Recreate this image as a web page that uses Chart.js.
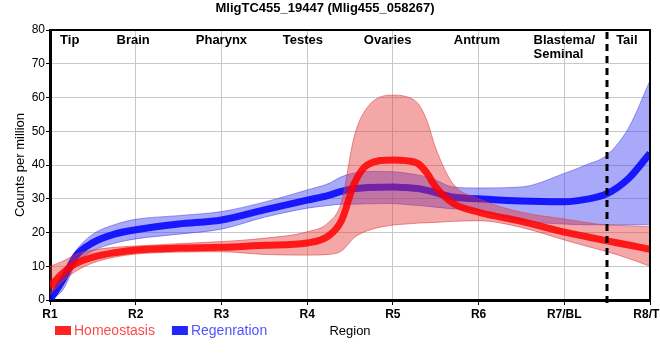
<!DOCTYPE html>
<html lang="en">
<head>
<meta charset="UTF-8">
<title>MligTC455_19447 (Mlig455_058267)</title>
<style>
  html, body { margin: 0; padding: 0; background: #fff; overflow: hidden; }
  #wrap { width: 660px; height: 360px; }
</style>
</head>
<body>
<div id="wrap"><canvas id="chart" width="660" height="360"></canvas></div>

<script src="https://cdn.jsdelivr.net/npm/chart.js"></script>
<script>
// position along the body: 1 = R1 ... 8 = R8/TL
const positions  = [1, 1.15, 1.3, 1.5, 1.75, 2, 2.5, 3, 3.5, 4, 4.25, 4.4, 4.55, 4.7, 5, 5.15, 5.3, 5.4, 5.5, 5.7, 6, 6.5, 7, 7.25, 7.5, 7.75, 8];

// Homeostasis (red): mean and band
const homeoMean  = [4, 8, 10.8, 12.7, 14, 14.8, 15.4, 15.6, 16.2, 16.9, 19, 23.5, 34.5, 40, 41.5, 41.3, 40.3, 37.5, 33.5, 28.7, 26, 23.3, 20.1, 18.8, 17.5, 16.3, 15];
const homeoUpper = [10, 11.5, 13.5, 14.8, 15.6, 16, 16.7, 17.3, 18.3, 20.2, 23, 29, 48.5, 57, 60.7, 60.3, 58, 53, 45, 34.5, 30, 26, 24, 23, 22.2, 22, 21.7];
const homeoLower = [1.5, 5.5, 8.5, 11, 12.7, 13.6, 14.2, 14.3, 13.5, 13.3, 13.5, 14.5, 18.5, 20.5, 22.2, 22.5, 22.8, 22.9, 23, 23.3, 23.5, 21.5, 17.8, 16, 14.3, 12.3, 10];

// Regeneration (blue): mean and band
const regenMean  = [0, 6, 13, 17, 19.5, 20.8, 22.5, 23.7, 26.7, 29.6, 31, 32.2, 33, 33.3, 33.5, 33.3, 33, 32.5, 31.8, 30.5, 30, 29.3, 29.1, 29.8, 31.5, 36, 43.5];
const regenUpper = [1, 7.5, 14.5, 19.5, 22.3, 23.9, 25, 26.2, 29, 32.6, 34.5, 36.5, 37.6, 38.1, 38, 37.6, 37, 36.4, 35.5, 33.5, 33.2, 33.5, 37.5, 40, 43, 51, 65];
const regenLower = [0, 3, 10.5, 14.5, 16.8, 18.1, 19.5, 21, 24.5, 27.2, 28, 28.4, 28.4, 28.5, 28.6, 28.3, 28, 27.8, 27.5, 27, 26.5, 23.5, 22.5, 22.3, 22.3, 22.3, 22.3];

const tickLabels  = ['R1', 'R2', 'R3', 'R4', 'R5', 'R6', 'R7/BL', 'R8/TL'];
const regionNames = ['Tip', 'Brain', 'Pharynx', 'Testes', 'Ovaries', 'Antrum', 'Blastema/\nSeminal', 'Tail'];
const regionPos   = [1.23, 1.97, 3.0, 3.95, 4.94, 5.98, 7.0, 7.73];
const dividerPos  = 7.5;

const FONT = '"Liberation Sans", Arial, sans-serif';

function pts(vals) {
    return positions.map((x, i) => ({ x: x, y: vals[i] }));
}

function meanLine(label, vals, color, legendText) {
    return {
        label: label, data: pts(vals), borderColor: color, backgroundColor: color,
        borderWidth: 7, pointRadius: 0, fill: false, cubicInterpolationMode: 'monotone',
        legendText: legendText
    };
}

function bandLine(vals, edge, fillTo, fillColor) {
    return {
        band: true, data: pts(vals), borderColor: edge, borderWidth: 1, pointRadius: 0,
        cubicInterpolationMode: 'monotone',
        fill: fillTo === null ? false : { target: fillTo },
        backgroundColor: fillColor
    };
}

// first dataset is drawn on top
const datasets = [
    meanLine('Homeostasis', homeoMean, 'rgba(255,0,0,0.86)', '#ff4a4a'),
    bandLine(homeoUpper, 'rgba(215,60,60,0.55)', 2, 'rgba(230,50,50,0.43)'),
    bandLine(homeoLower, 'rgba(215,60,60,0.55)', null),
    meanLine('Regenration', regenMean, 'rgba(0,0,255,0.86)', '#5252ff'),
    bandLine(regenUpper, 'rgba(60,60,230,0.5)', 5, 'rgba(50,50,240,0.42)'),
    bandLine(regenLower, 'rgba(60,60,230,0.5)', null)
];

const decorations = {
    id: 'decorations',
    afterDatasetsDraw(chart) {
        const { ctx, chartArea: a } = chart;
        const x = chart.scales.x;
        ctx.save();
        // frame on top and right
        ctx.strokeStyle = '#000';
        ctx.lineWidth = 2;
        ctx.beginPath();
        ctx.moveTo(a.left, a.top);
        ctx.lineTo(a.right, a.top);
        ctx.lineTo(a.right, a.bottom);
        ctx.stroke();
        // dashed divider before the tail
        const dx = Math.round(x.getPixelForValue(dividerPos));
        ctx.lineWidth = 3;
        ctx.setLineDash([7, 5]);
        ctx.beginPath();
        ctx.moveTo(dx, a.top + 2);
        ctx.lineTo(dx, a.bottom + 5);
        ctx.stroke();
        ctx.setLineDash([]);
        // region names
        ctx.fillStyle = '#000';
        ctx.font = 'bold 13px ' + FONT;
        ctx.textAlign = 'center';
        ctx.textBaseline = 'middle';
        regionNames.forEach((name, i) => {
            const px = x.getPixelForValue(regionPos[i]);
            const lines = name.split('\n');
            const w = ctx.measureText(lines[0]).width;
            lines.forEach((ln, j) => {
                // multi-line labels are left aligned on the first line
                if (lines.length > 1) {
                    ctx.textAlign = 'left';
                    ctx.fillText(ln, px - w / 2, 40 + j * 14);
                    ctx.textAlign = 'center';
                } else {
                    ctx.fillText(ln, px, 40);
                }
            });
        });
        ctx.restore();
    },
    afterDraw(chart) {
        const { ctx } = chart;
        ctx.save();
        ctx.font = '14px ' + FONT;
        ctx.textBaseline = 'middle';
        ctx.textAlign = 'left';
        let lx = 55;
        const ly = 330;
        chart.data.datasets.filter(d => !d.band).forEach(d => {
            ctx.fillStyle = d.borderColor;
            ctx.fillRect(lx, ly - 4, 16, 9);
            ctx.fillStyle = d.legendText;
            ctx.fillText(d.label, lx + 19, ly + 1);
            lx += 19 + ctx.measureText(d.label).width + 17;
        });
        ctx.restore();
    }
};

new Chart(document.getElementById('chart'), {
    type: 'line',
    data: { datasets: datasets },
    plugins: [decorations],
    options: {
        responsive: false,
        animation: false,
        layout: { padding: { top: 0, right: 10, bottom: 21, left: 0 } },
        plugins: {
            legend: { display: false },
            tooltip: { enabled: false },
            title: {
                display: true,
                text: 'MligTC455_19447 (Mlig455_058267)',
                color: '#000',
                font: { family: FONT, size: 13, weight: 'bold' },
                padding: { top: 1, bottom: 13.4 }
            }
        },
        scales: {
            x: {
                type: 'linear', min: 1, max: 8,
                ticks: {
                    stepSize: 1, autoSkip: false, maxRotation: 0, padding: 2,
                    color: '#000', font: { family: FONT, size: 12, weight: 'bold' },
                    callback: v => tickLabels[v - 1]
                },
                grid: { color: '#c8c8c8', lineWidth: 1, tickColor: '#000', tickLength: 5 },
                border: { color: '#000', width: 3 },
                title: { display: true, text: 'Region', color: '#000', font: { family: FONT, size: 13 }, padding: 0 },
                afterFit: s => { s.height = 39; s.paddingLeft = 0; s.paddingRight = 0; }
            },
            y: {
                min: 0, max: 80,
                ticks: { stepSize: 10, padding: 1, color: '#000', font: { family: FONT, size: 12 } },
                grid: { color: '#c8c8c8', lineWidth: 1, tickColor: '#000', tickLength: 4 },
                border: { color: '#000', width: 3 },
                title: { display: true, text: 'Counts per million', color: '#000', font: { family: FONT, size: 13 }, padding: { top: 13, bottom: 0 } },
                afterFit: s => { s.width = 50; }
            }
        }
    }
});
</script>
</body>
</html>
